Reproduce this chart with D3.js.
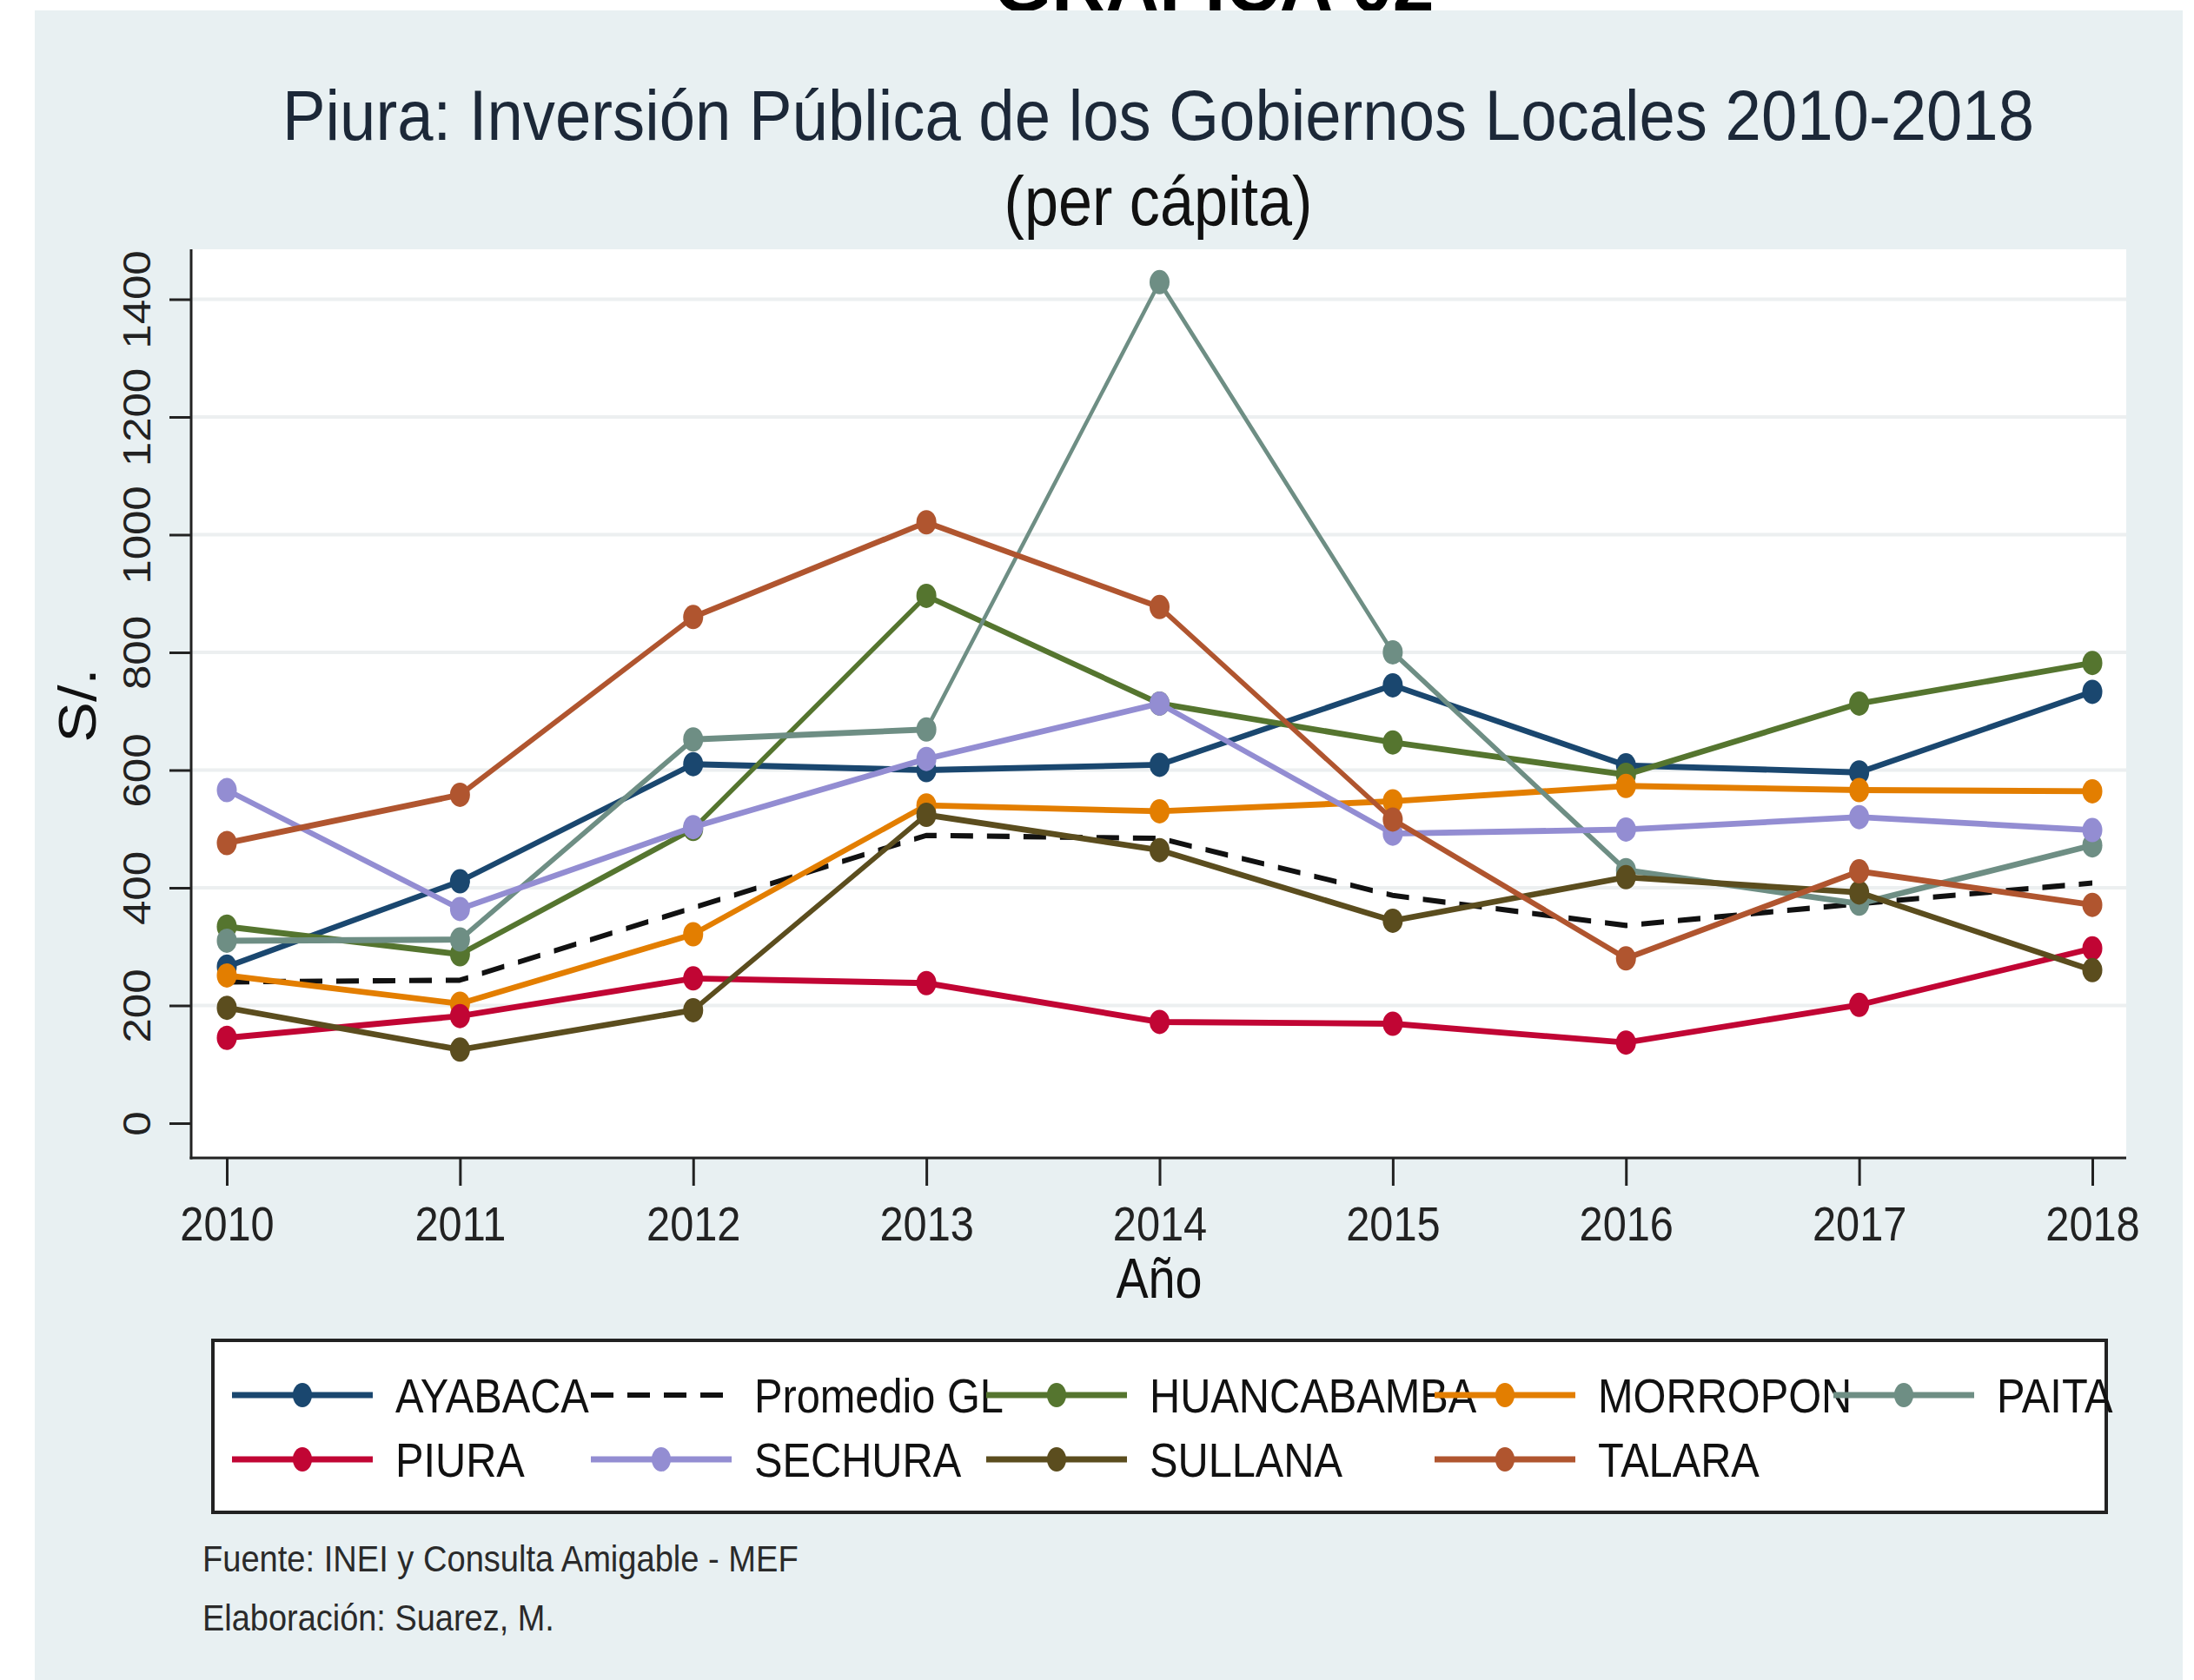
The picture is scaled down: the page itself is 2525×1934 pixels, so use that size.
<!DOCTYPE html>
<html lang="es">
<head>
<meta charset="UTF-8" />
<title>Piura: Inversión Pública de los Gobiernos Locales 2010-2018</title>
<style>
  body { margin: 0; background: #ffffff; }
  text { font-family: "Liberation Sans", Arial, sans-serif; }
</style>
</head>
<body>
<svg id="svg" width="2525" height="1934"></svg>
<script src="https://cdn.jsdelivr.net/npm/d3@7"></script>
<script>
// valores per cápita (S/.)
const years = [2010, 2011, 2012, 2013, 2014, 2015, 2016, 2017, 2018];
const ayabaca     = [266, 411, 610, 600, 609, 744, 608, 596, 733];
const promedioGL  = [240, 243, 366, 489, 484, 387, 336, 373, 408];
const huancabamba = [334, 287, 500, 896, 713, 647, 592, 713, 782];
const morropon    = [251, 203, 321, 540, 530, 547, 573, 566, 564];
const paita       = [310, 312, 652, 669, 1429, 800, 430, 373, 472];
const piura       = [145, 182, 246, 238, 172, 169, 137, 201, 297];
const sechura     = [566, 364, 503, 619, 713, 492, 499, 520, 498];
const sullana     = [196, 125, 192, 524, 464, 344, 418, 392, 260];
const talara      = [476, 558, 860, 1021, 877, 516, 280, 428, 371];

const seriesNames  = ["AYABACA", "Promedio GL", "HUANCABAMBA", "MORROPON", "PAITA",
                      "PIURA", "SECHURA", "SULLANA", "TALARA"];
const seriesValues = [ayabaca, promedioGL, huancabamba, morropon, paita,
                      piura, sechura, sullana, talara];
const seriesColors = ["#1a476f", "#111111", "#55752f", "#e37e00", "#6e8e84",
                      "#c10534", "#938dd2", "#5b4d1e", "#b0552f"];
const yTicks = [0, 200, 400, 600, 800, 1000, 1200, 1400];

const svg = d3.select("#svg");
const plot = { left: 220, right: 2447, top: 287, bottom: 1333 };
const squash = 0.87;   // la imagen original está comprimida en horizontal
const stretch = 1.9;   // las líneas planas se ven más gruesas que las empinadas

const x = d3.scaleLinear().domain([2010, 2018]).range([261, 2408]);
const y = d3.scaleLinear().domain([0, 1400]).range([1293, 344.5]);

// texto con la misma compresión horizontal que la imagen
function label(parent, str, px, py, size, opts = {}) {
  const t = parent.append("text").text(str)
    .attr("font-size", size)
    .attr("text-anchor", opts.anchor || "start")
    .attr("fill", opts.color || "#111");
  if (opts.weight) t.attr("font-weight", opts.weight);
  if (opts.rotate) {
    t.attr("transform", `translate(${px},${py}) rotate(-90) scale(1,${squash})`);
  } else {
    let sx = squash;
    if (opts.width) sx = opts.width / t.node().getComputedTextLength();
    t.attr("transform", `translate(${px},${py}) scale(${sx},1)`);
  }
  return t;
}

// encabezado cortado arriba y fondo
label(svg, "GRÁFICA 02", 1397, 13, 90, { anchor: "middle", weight: "bold", width: 507, color: "#000" });
svg.append("rect").attr("x", 40).attr("y", 12).attr("width", 2472).attr("height", 1922)
  .attr("fill", "#e8f0f2");

// títulos
label(svg, "Piura: Inversión Pública de los Gobiernos Locales 2010-2018", 1333, 161, 82,
  { anchor: "middle", width: 2016, color: "#1c2838" });
label(svg, "(per cápita)", 1333, 259, 80, { anchor: "middle", width: 355, color: "#111" });

// región del gráfico
svg.append("rect").attr("x", plot.left).attr("y", plot.top)
  .attr("width", plot.right - plot.left).attr("height", plot.bottom - plot.top)
  .attr("fill", "#ffffff");

svg.append("g").selectAll("line")
  .data(yTicks.filter(d => d > 0))
  .join("line")
  .attr("x1", plot.left).attr("x2", plot.right)
  .attr("y1", d => y(d)).attr("y2", d => y(d))
  .attr("stroke", "#eceff0").attr("stroke-width", 4);

// eje Y
const yAxis = svg.append("g").attr("transform", `translate(${plot.left},0)`)
  .call(d3.axisLeft(y).tickValues(yTicks).tickFormat(d3.format("d")).tickSize(25).tickSizeOuter(0));
yAxis.select(".domain").remove();
yAxis.selectAll(".tick line").attr("stroke", "#222").attr("stroke-width", 3);
yAxis.selectAll(".tick text")
  .attr("x", null).attr("dy", null)
  .attr("text-anchor", "middle")
  .attr("font-size", 51)
  .attr("font-family", "Liberation Sans, Arial, sans-serif")
  .attr("fill", "#222")
  .attr("transform", `translate(-47,0) rotate(-90) scale(1,${squash})`);

// eje X
const xAxis = svg.append("g").attr("transform", `translate(0,${plot.bottom})`)
  .call(d3.axisBottom(x).tickValues(years).tickFormat(d3.format("d")).tickSize(32).tickSizeOuter(0));
xAxis.select(".domain").remove();
xAxis.selectAll(".tick line").attr("stroke", "#222").attr("stroke-width", 3);
xAxis.selectAll(".tick text")
  .attr("y", null).attr("dy", null)
  .attr("text-anchor", "middle")
  .attr("font-size", 56)
  .attr("font-family", "Liberation Sans, Arial, sans-serif")
  .attr("fill", "#222")
  .attr("transform", `translate(0,95) scale(${squash},1)`);

svg.append("line").attr("x1", plot.left).attr("x2", plot.left)
  .attr("y1", plot.top).attr("y2", plot.bottom + 1.5)
  .attr("stroke", "#222").attr("stroke-width", 3);
svg.append("line").attr("x1", plot.left - 1.5).attr("x2", plot.right)
  .attr("y1", plot.bottom).attr("y2", plot.bottom)
  .attr("stroke", "#222").attr("stroke-width", 3);

label(svg, "S/.", 110, 812, 70, { anchor: "middle", rotate: true, color: "#111" });
label(svg, "Año", 1334, 1494, 64, { anchor: "middle", color: "#111" });

// series
const lineLayer = svg.append("g").attr("transform", `scale(1,${stretch})`);
const line = d3.line()
  .x((d, i) => x(years[i]))
  .y(d => y(d) / stretch);

seriesValues.forEach((vals, k) => {
  const dashed = seriesNames[k] === "Promedio GL";
  lineLayer.append("path")
    .datum(vals)
    .attr("d", line)
    .attr("fill", "none")
    .attr("stroke", seriesColors[k])
    .attr("stroke-width", dashed ? 3.2 : 3.6)
    .attr("stroke-linejoin", "round")
    .attr("stroke-dasharray", dashed ? "26,16" : null);
  if (!dashed) {
    lineLayer.append("g").selectAll("ellipse")
      .data(vals)
      .join("ellipse")
      .attr("cx", (d, i) => x(years[i]))
      .attr("cy", d => y(d) / stretch)
      .attr("rx", 11.5)
      .attr("ry", 14 / stretch)
      .attr("fill", seriesColors[k]);
  }
});

// leyenda
const legend = svg.append("g");
legend.append("rect").attr("x", 245).attr("y", 1543).attr("width", 2179).attr("height", 198)
  .attr("fill", "#ffffff").attr("stroke", "#222").attr("stroke-width", 4);

const colX = [455, 868, 1323, 1839, 2298];
const rowY = [1606, 1680];
seriesNames.forEach((name, k) => {
  const row = k < 5 ? 0 : 1;
  const col = k < 5 ? k : k - 5;
  const lx = colX[col], ly = rowY[row];
  const dashed = name === "Promedio GL";
  legend.append("line")
    .attr("x1", lx - 188).attr("x2", lx - 26)
    .attr("y1", ly).attr("y2", ly)
    .attr("stroke", seriesColors[k])
    .attr("stroke-width", dashed ? 6 : 6.8)
    .attr("stroke-dasharray", dashed ? "26,16" : null);
  if (!dashed) {
    legend.append("ellipse")
      .attr("cx", lx - 107).attr("cy", ly)
      .attr("rx", 11).attr("ry", 14)
      .attr("fill", seriesColors[k]);
  }
  label(legend, name, lx, ly + 20, 56, { color: "#111" });
});

// notas
label(svg, "Fuente: INEI y Consulta Amigable - MEF", 233, 1809, 42, { width: 686, color: "#2a2a2a" });
label(svg, "Elaboración: Suarez, M.", 233, 1877, 42, { width: 405, color: "#2a2a2a" });
</script>
</body>
</html>
